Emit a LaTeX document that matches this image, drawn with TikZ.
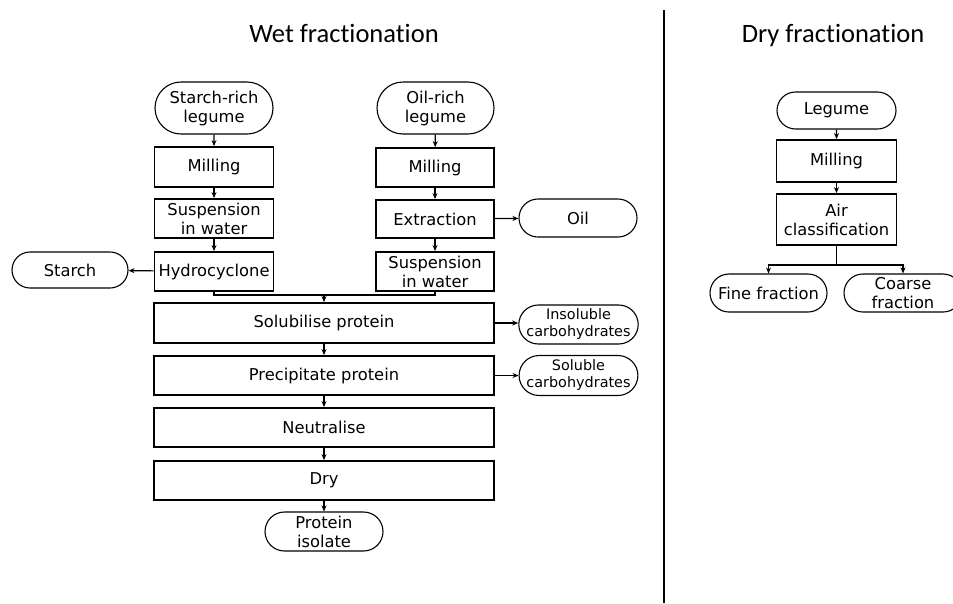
\documentclass[tikz,border=0pt]{standalone}
\usepackage{fontspec}
\setmainfont{DejaVu Sans}
\newfontfamily\titlefont[Ligatures=NoCommon]{Carlito}
\usetikzlibrary{arrows.meta,shapes.misc}
\tikzset{
  proc/.style={draw, line width=1.8pt, inner sep=0pt, align=center,
    font=\fontsize{16.3}{19}\selectfont},
  term/.style={draw, rounded rectangle, line width=1.1pt, inner sep=0pt, align=center,
    font=\fontsize{16.3}{19}\selectfont},
  small/.style={font=\fontsize{14.4}{17}\selectfont},
  conn/.style={line width=1.2pt, -{Stealth[length=6pt,width=5pt]}},
  plain/.style={line width=1.2pt},
  ttl/.style={font=\titlefont\fontsize{26.5}{28}\selectfont, anchor=base}
}
\begin{document}
\begin{tikzpicture}[x=1pt,y=-1pt]
\useasboundingbox (0,0) rectangle (953,603);
\clip (0,0) rectangle (953,603);
% titles and divider
\node[ttl] (tw) at (344,42.5) {Wet fractionation};
\node[ttl] (td) at (833,42.5) {Dry fractionation};
\draw[line width=2pt] (664,10) -- (664,603);
% left column
\node[term, minimum width=118pt, minimum height=52pt] (sl) at (214,108) {Starch-rich\\legume};
\node[proc, minimum width=119pt, minimum height=40pt] (m1) at (214,167) {Milling};
\node[proc, minimum width=119pt, minimum height=39pt] (s1) at (214,218.5) {Suspension\\in water};
\node[proc, minimum width=119pt, minimum height=39pt] (hy) at (214,271.5) {Hydrocyclone};
\node[term, minimum width=116pt, minimum height=36pt] (st) at (70,270) {Starch};
% right column
\node[term, minimum width=117pt, minimum height=52pt] (ol) at (435.5,108) {Oil-rich\\legume};
\node[proc, minimum width=118pt, minimum height=39pt] (m2) at (435,167.5) {Milling};
\node[proc, minimum width=118pt, minimum height=38pt] (ex) at (435,219) {Extraction};
\node[term, minimum width=118pt, minimum height=38pt] (oil) at (578,218) {Oil};
\node[proc, minimum width=118pt, minimum height=39pt] (s2) at (435,271.5) {Suspension\\in water};
% common part
\node[proc, minimum width=340pt, minimum height=40pt] (sol) at (324,323) {Solubilise protein};
\node[proc, minimum width=340pt, minimum height=39pt] (pre) at (324,375.5) {Precipitate protein};
\node[proc, minimum width=340pt, minimum height=39pt] (neu) at (324,427.5) {Neutralise};
\node[proc, minimum width=340pt, minimum height=39pt] (dry) at (324,480.5) {Dry};
\node[term, minimum width=118pt, minimum height=39pt] (pi) at (324,531.5) {Protein\\isolate};
\node[term, small, minimum width=117pt, minimum height=39pt] (ins) at (578.5,324.5) {Insoluble\\carbohydrates};
\node[term, small, minimum width=117pt, minimum height=40pt] (sc) at (578.5,375.5) {Soluble\\carbohydrates};
% dry fractionation
\node[term, minimum width=119pt, minimum height=37pt] (lg) at (836.5,110.5) {Legume};
\node[proc, minimum width=120pt, minimum height=42pt] (m3) at (836.5,161) {Milling};
\node[proc, minimum width=120pt, minimum height=51pt] (air) at (836.5,219.5) {Air\\classification};
\node[term, minimum width=117pt, minimum height=38pt] (ff) at (768.5,293) {Fine fraction};
\node[term, minimum width=118pt, minimum height=38pt] (cf) at (903,293) {Coarse\\fraction};
% connectors left
\draw[conn] (sl) -- (m1);
\draw[conn] (m1) -- (s1);
\draw[conn] (s1) -- (hy);
\draw[conn] (hy) -- (st);
\draw[conn] (ol) -- (m2);
\draw[conn] (m2) -- (ex);
\draw[conn] (ex) -- (oil);
\draw[conn] (ex) -- (s2);
\coordinate (mj) at (324,295);
\draw[plain] (hy.south) |- (mj);
\draw[plain] (s2.south) |- (mj);
\draw[conn] (mj) -- (sol.north);
\draw[conn] (sol) -- (pre);
\draw[conn] (pre) -- (neu);
\draw[conn] (neu) -- (dry);
\draw[conn] (dry) -- (pi);
\draw[conn] (sol.east) -- (sol.east -| ins.west);
\draw[conn] (pre.east) -- (pre.east -| sc.west);
% connectors right
\draw[conn] (lg) -- (m3);
\draw[conn] (m3) -- (air);
\coordinate (bj) at (836.5,265);
\draw[plain] (air.south) -- (bj);
\draw[conn] (bj) -| (ff.north);
\draw[conn] (bj) -| (cf.north);
\end{tikzpicture}
\end{document}
